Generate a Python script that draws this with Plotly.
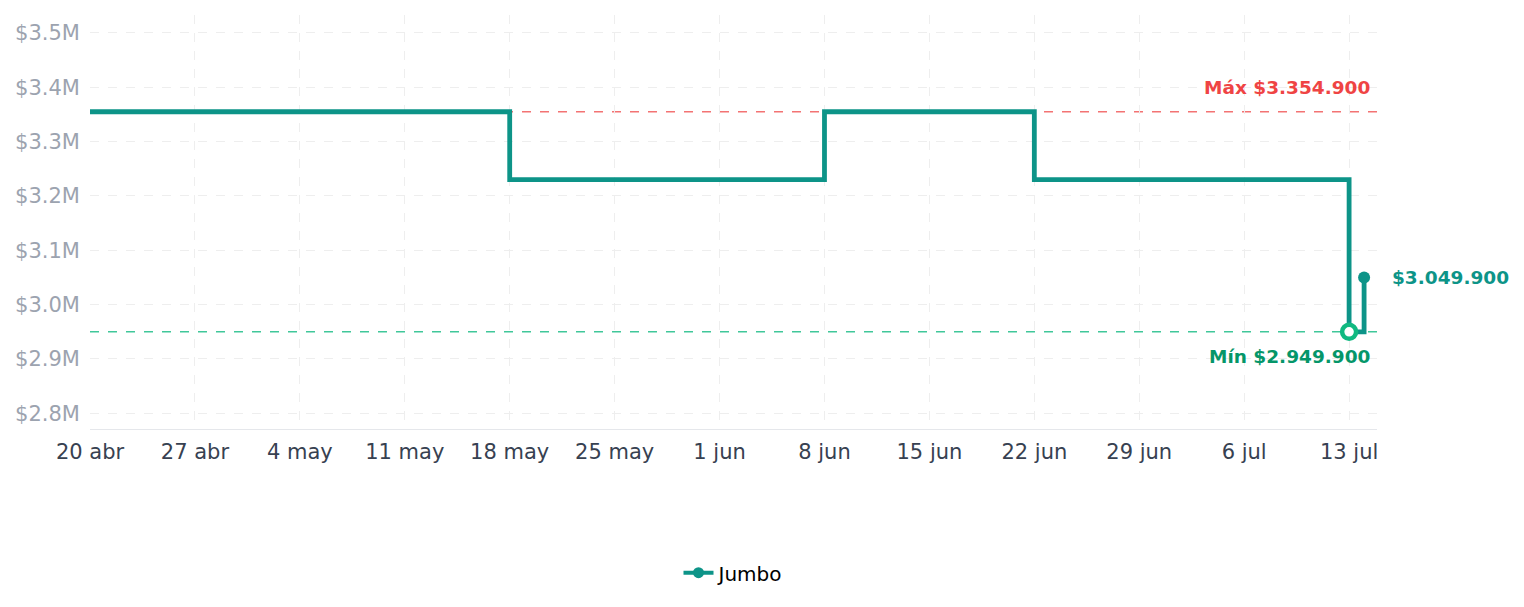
import plotly.graph_objects as go

# Data
dates = ["2025-04-20", "2025-05-18", "2025-06-08", "2025-06-22", "2025-07-13", "2025-07-14"]
prices = [3354900, 3229900, 3354900, 3229900, 2949900, 3049900]
series_name = "Jumbo"

max_price = 3354900
min_price = 2949900
min_date = "2025-07-13"
last_date = "2025-07-14"
last_price = 3049900

x_tick_vals = ["2025-04-20", "2025-04-27", "2025-05-04", "2025-05-11", "2025-05-18", "2025-05-25",
               "2025-06-01", "2025-06-08", "2025-06-15", "2025-06-22", "2025-06-29", "2025-07-06",
               "2025-07-13"]
x_tick_text = ["20 abr", "27 abr", "4 may", "11 may", "18 may", "25 may", "1 jun", "8 jun",
               "15 jun", "22 jun", "29 jun", "6 jul", "13 jul"]
y_tick_vals = [2800000, 2900000, 3000000, 3100000, 3200000, 3300000, 3400000, 3500000]
y_tick_text = ["$2.8M", "$2.9M", "$3.0M", "$3.1M", "$3.2M", "$3.3M", "$3.4M", "$3.5M"]

TEAL = "#0d9488"
FONT = "DejaVu Sans"

fig = go.Figure()
# step line
fig.add_trace(go.Scatter(
    x=dates, y=prices, name=series_name, mode="lines", showlegend=False,
    line=dict(color=TEAL, width=4.8, shape="hv"),
))
# last point marker
fig.add_trace(go.Scatter(
    x=[last_date], y=[last_price], mode="markers", showlegend=False,
    marker=dict(color=TEAL, size=12, line=dict(width=0)),
))
# minimum marker
fig.add_trace(go.Scatter(
    x=[min_date], y=[min_price], mode="markers", showlegend=False,
    marker=dict(color="white", size=14, line=dict(color="#10b981", width=4.5)),
))
# legend entry
fig.add_trace(go.Scatter(
    x=[None], y=[None], name=series_name, mode="lines+markers",
    line=dict(color=TEAL, width=4), marker=dict(color=TEAL, size=11),
))

fig.add_hline(y=max_price, line=dict(color="rgba(239,68,68,0.75)", width=1.5, dash="dash"), layer="below")
fig.add_hline(y=min_price, line=dict(color="rgba(16,185,129,0.8)", width=1.5, dash="dash"), layer="below")

fig.add_annotation(x=1, xref="paper", y=max_price, yref="y", text="<b>Máx $3.354.900</b>",
                   showarrow=False, xanchor="right", yanchor="bottom", xshift=-5, yshift=12,
                   font=dict(family=FONT, size=18.5, color="#ef4444"))
fig.add_annotation(x=1, xref="paper", y=min_price, yref="y", text="<b>Mín $2.949.900</b>",
                   showarrow=False, xanchor="right", yanchor="top", xshift=-5, yshift=-12,
                   font=dict(family=FONT, size=18.5, color="#059669"))
fig.add_annotation(x=last_date, y=last_price, text="<b>$3.049.900</b>",
                   showarrow=False, xanchor="left", yanchor="middle", xshift=26,
                   font=dict(family=FONT, size=18.5, color=TEAL))

fig.update_layout(
    width=1524, height=607,
    margin=dict(l=90, r=147, t=15, b=178),
    paper_bgcolor="white", plot_bgcolor="white",
    font=dict(family=FONT, size=20, color="#374151"),
    showlegend=True,
    legend=dict(orientation="h", x=0.5, xanchor="center", y=-0.3, yanchor="top",
                font=dict(family=FONT, size=20, color="black")),
    xaxis=dict(
        range=["2025-04-20", "2025-07-14 20:40"],
        tickvals=x_tick_vals, ticktext=x_tick_text,
        showgrid=True, gridcolor="#eeeeee", griddash="dash", gridwidth=1,
        showline=True, linecolor="#e5e7eb", linewidth=1,
        ticks="", zeroline=False, ticklabelstandoff=4,
        tickfont=dict(family=FONT, size=21, color="#374151"),
    ),
    yaxis=dict(
        range=[2771000, 3533000],
        tickvals=y_tick_vals, ticktext=y_tick_text,
        showgrid=True, gridcolor="#eeeeee", griddash="dash", gridwidth=1,
        showline=False, zeroline=False, ticks="", ticklabelstandoff=9,
        tickfont=dict(family=FONT, size=21, color="#9ca3af"),
    ),
)

fig.write_html("out.html")
